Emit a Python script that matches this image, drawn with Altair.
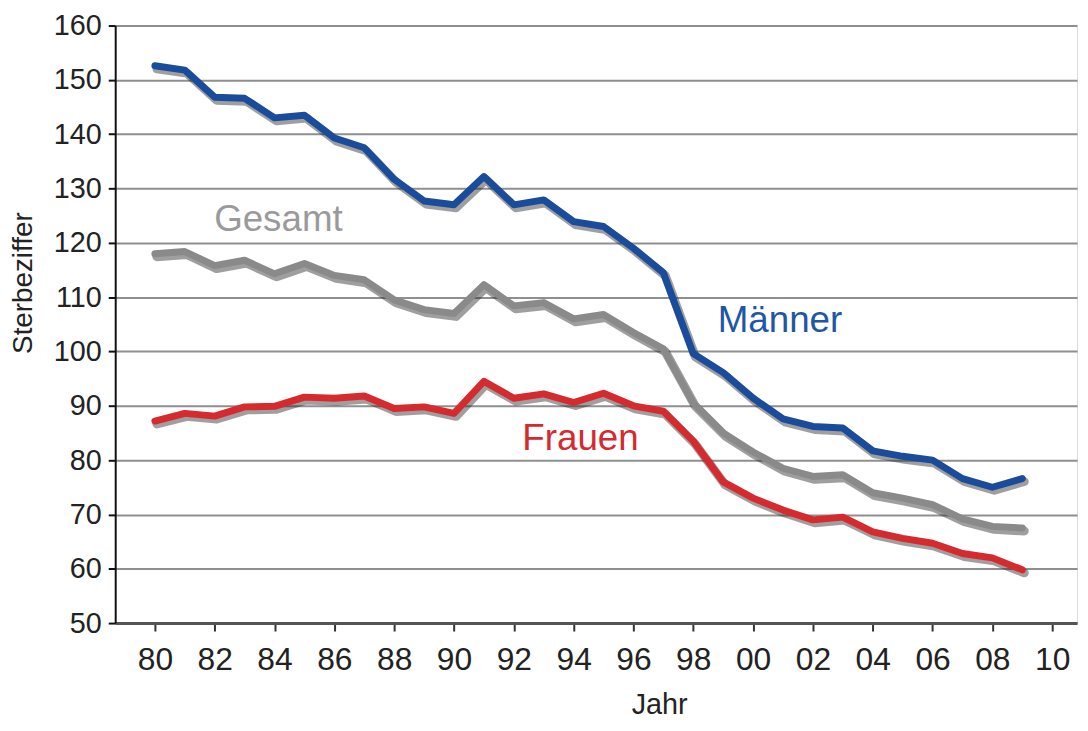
import altair as alt
import pandas as pd

years = list(range(1980, 2010))
maenner = [152.6, 151.8, 146.8, 146.6, 143.0, 143.5, 139.3, 137.5, 131.7, 127.7,
           127.0, 132.2, 127.0, 127.9, 123.9, 123.0, 119.0, 114.5, 99.6, 96.1,
           91.4, 87.6, 86.2, 85.9, 81.7, 80.7, 80.0, 76.6, 75.0, 76.6]
gesamt = [118.0, 118.4, 115.8, 116.8, 114.3, 116.2, 114.0, 113.2, 109.5, 107.7,
          107.0, 112.3, 108.4, 109.0, 106.0, 106.8, 103.5, 100.5, 90.5, 85.0,
          81.5, 78.5, 77.0, 77.3, 74.0, 73.0, 71.8, 69.2, 67.8, 67.5]
frauen = [87.2, 88.6, 88.1, 89.8, 89.9, 91.6, 91.4, 91.8, 89.5, 89.8,
          88.6, 94.5, 91.4, 92.2, 90.6, 92.3, 90.0, 89.0, 83.5, 76.0,
          73.0, 70.8, 69.0, 69.5, 66.8, 65.6, 64.7, 62.8, 62.0, 59.8]

series_names = ["Gesamt", "Männer", "Frauen"]
line_colors = ["#8a8a8a", "#1a4c9c", "#d52a2e"]

label_text = ["Gesamt", "Männer", "Frauen"]
label_year = [1984.13, 2000.9, 1994.23]
label_value = [124.2, 105.6, 83.8]
label_color = ["#9a9a9a", "#1f56a6", "#d52a2e"]

x_ticks = list(range(1980, 2011, 2))
y_ticks = list(range(50, 161, 10))

rows = []
for name, vals in zip(series_names, [gesamt, maenner, frauen]):
    for y, v in zip(years, vals):
        rows.append({"Jahr": y, "Wert": v, "Serie": name})
df = pd.DataFrame(rows)

labels = pd.DataFrame({"text": label_text, "Jahr": label_year,
                       "Wert": label_value, "farbe": label_color})

FONT = "Liberation Sans, Arial, sans-serif"

xscale = alt.Scale(domain=[1978.673, 2010.83], nice=False, zero=False)
yscale = alt.Scale(domain=[50, 160], nice=False, zero=False)

xaxis = alt.Axis(values=x_ticks, labelExpr="substring(toString(datum.value), 2, 4)",
                 grid=False, domainColor="#555555", domainWidth=3,
                 tickColor="#333333", tickSize=8, tickWidth=2,
                 labelFont=FONT, labelFontSize=32, labelColor="#222222",
                 labelPadding=14, labelAlign="center",
                 title="Jahr", titleFont=FONT, titleFontSize=29,
                 titleFontWeight="normal", titleColor="#222222",
                 titleX=548, titleY=91, titleAlign="center",
                 titleBaseline="alphabetic", titleAnchor="start")
yaxis = alt.Axis(values=y_ticks, grid=True, gridColor="#8f8f8f", gridWidth=2,
                 domainColor="#111111", domainWidth=2,
                 tickColor="#111111", tickSize=7, tickWidth=2,
                 labelFont=FONT, labelFontSize=29, labelColor="#222222",
                 labelPadding=7,
                 title="Sterbeziffer", titleFont=FONT, titleFontSize=28,
                 titleFontWeight="normal", titleColor="#222222",
                 titleAngle=-90, titleX=-92, titleY=259,
                 titleAlign="center", titleBaseline="middle", titleAnchor="start")

base = alt.Chart(df)

shadow = base.mark_line(color="#2a2a2a", opacity=0.45, strokeWidth=9,
                        xOffset=2, yOffset=3, strokeJoin="round",
                        strokeCap="round").encode(
    x=alt.X("Jahr:Q", scale=xscale, axis=xaxis),
    y=alt.Y("Wert:Q", scale=yscale, axis=yaxis),
    detail="Serie:N",
)

lines = base.mark_line(strokeWidth=7, strokeJoin="round", strokeCap="round").encode(
    x=alt.X("Jahr:Q", scale=xscale),
    y=alt.Y("Wert:Q", scale=yscale),
    color=alt.Color("Serie:N", scale=alt.Scale(domain=series_names, range=line_colors),
                    legend=None),
)

texts = alt.Chart(labels).mark_text(font=FONT, fontSize=37, align="center",
                                    baseline="middle").encode(
    x=alt.X("Jahr:Q", scale=xscale),
    y=alt.Y("Wert:Q", scale=yscale),
    text="text:N",
    color=alt.Color("farbe:N", scale=None),
)

chart = alt.layer(shadow, lines, texts).resolve_scale(color="independent").properties(
    width=969, height=602,
    autosize=alt.AutoSizeParams(type="none"),
    padding={"left": 108, "top": 15, "right": 3, "bottom": 100},
).configure_view(stroke=None).configure(background="white")

chart.save("out.html", embed_options={"renderer": "svg", "actions": False})
